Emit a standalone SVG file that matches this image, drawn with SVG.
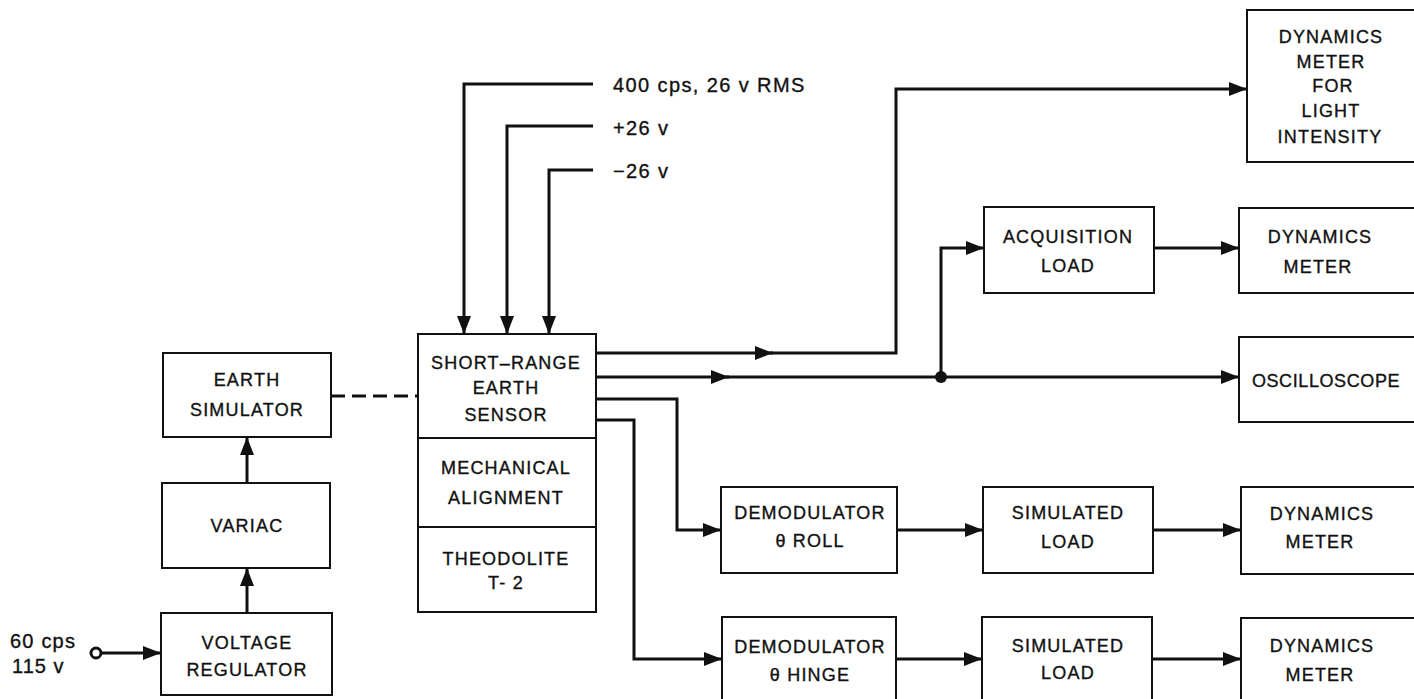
<svg xmlns="http://www.w3.org/2000/svg" width="1414" height="699" viewBox="0 0 1414 699">
<style>
.box{fill:#fff;stroke:#111;stroke-width:2}
.t{font-family:"Liberation Sans",Arial,sans-serif;font-size:18px;fill:#111;stroke:#111;stroke-width:0.35px;text-anchor:middle;letter-spacing:1.2px}
.lbl{font-family:"Liberation Sans",Arial,sans-serif;font-size:20px;fill:#111;stroke:#111;stroke-width:0.35px;letter-spacing:1.4px}
.w{fill:none;stroke:#111;stroke-width:3}
.a{marker-end:url(#ah)}
</style>
<defs>
<marker id="ah" markerUnits="userSpaceOnUse" markerWidth="19" markerHeight="16" refX="18" refY="8" orient="auto">
<path d="M0,1 L18,8 L0,15 z" fill="#111"/>
</marker>
</defs>
<rect width="1414" height="699" fill="#fff"/>

<g id="connectors">
<path class="w a" d="M593,84 H464 V334"/>
<path class="w a" d="M593,126 H507 V334"/>
<path class="w a" d="M593,170 H549 V334"/>
<path class="w" d="M331,396 H418" stroke-dasharray="14,7"/>
<path class="w a" d="M247,483 V437"/>
<path class="w a" d="M247,613 V568"/>
<circle cx="96" cy="653" r="5" fill="#fff" stroke="#111" stroke-width="3"/>
<path class="w a" d="M101,653 H161"/>
<path class="w a" d="M596,353 H773"/>
<path class="w a" d="M770,353 H896 V89 H1247"/>
<path class="w a" d="M596,377 H729"/>
<path class="w a" d="M726,377 H1239"/>
<circle cx="941" cy="377" r="6" fill="#111"/>
<path class="w a" d="M941,377 V248 H984"/>
<path class="w a" d="M1154,248 H1239"/>
<path class="w a" d="M596,399 H677 V530 H721"/>
<path class="w a" d="M596,420 H634 V659 H722"/>
<path class="w a" d="M897,530 H983"/>
<path class="w a" d="M1153,530 H1241"/>
<path class="w a" d="M896,659 H982"/>
<path class="w a" d="M1152,659 H1241"/>
</g>

<g id="input-labels">
<text class="lbl" x="613" y="92">400 cps, 26 v RMS</text>
<text class="lbl" x="613" y="135">+26 v</text>
<text class="lbl" x="613" y="178">−26 v</text>
<text class="lbl" x="10" y="648" style="letter-spacing:1.2px">60 cps</text>
<text class="lbl" x="12" y="673" style="letter-spacing:1px">115 v</text>
</g>

<g id="earth-simulator">
<rect class="box" x="163" y="353" width="168" height="84"/>
<text class="t" x="247" y="386">EARTH</text>
<text class="t" x="247" y="416">SIMULATOR</text>
</g>
<g id="variac">
<rect class="box" x="162" y="483" width="168" height="85"/>
<text class="t" x="247" y="532">VARIAC</text>
</g>
<g id="voltage-regulator">
<rect class="box" x="161" y="613" width="171" height="82"/>
<text class="t" x="247" y="649">VOLTAGE</text>
<text class="t" x="247" y="676">REGULATOR</text>
</g>

<g id="sensor">
<rect class="box" x="418" y="334" width="178" height="278"/>
<line x1="418" y1="438" x2="596" y2="438" stroke="#111" stroke-width="2"/>
<line x1="418" y1="527" x2="596" y2="527" stroke="#111" stroke-width="2"/>
<text class="t" x="506" y="369">SHORT–RANGE</text>
<text class="t" x="506" y="394">EARTH</text>
<text class="t" x="506" y="421">SENSOR</text>
<text class="t" x="506" y="474">MECHANICAL</text>
<text class="t" x="506" y="504">ALIGNMENT</text>
<text class="t" x="506" y="565">THEODOLITE</text>
<text class="t" x="506" y="589">T- 2</text>
</g>

<g id="dm-light">
<rect class="box" x="1247" y="10" width="200" height="152"/>
<text class="t" x="1331" y="43">DYNAMICS</text>
<text class="t" x="1331" y="68">METER</text>
<text class="t" x="1333" y="92">FOR</text>
<text class="t" x="1331" y="117">LIGHT</text>
<text class="t" x="1330" y="143">INTENSITY</text>
</g>

<g id="acquisition-load">
<rect class="box" x="984" y="207" width="170" height="86"/>
<text class="t" x="1068" y="243">ACQUISITION</text>
<text class="t" x="1068" y="272">LOAD</text>
</g>
<g id="dm-acq">
<rect class="box" x="1239" y="208" width="200" height="85"/>
<text class="t" x="1320" y="243">DYNAMICS</text>
<text class="t" x="1318" y="273">METER</text>
</g>

<g id="oscilloscope">
<rect class="box" x="1239" y="337" width="200" height="85"/>
<text class="t" x="1326" y="387" style="letter-spacing:0.6px">OSCILLOSCOPE</text>
</g>

<g id="demod-roll">
<rect class="box" x="721" y="487" width="176" height="86"/>
<text class="t" x="810" y="519">DEMODULATOR</text>
<text class="t" x="810" y="547">θ  ROLL</text>
</g>
<g id="sim-load-1">
<rect class="box" x="983" y="487" width="170" height="86"/>
<text class="t" x="1068" y="519">SIMULATED</text>
<text class="t" x="1068" y="548">LOAD</text>
</g>
<g id="dm-roll">
<rect class="box" x="1241" y="487" width="200" height="87"/>
<text class="t" x="1322" y="520">DYNAMICS</text>
<text class="t" x="1320" y="548">METER</text>
</g>

<g id="demod-hinge">
<rect class="box" x="722" y="617" width="174" height="100"/>
<text class="t" x="810" y="653">DEMODULATOR</text>
<text class="t" x="810" y="681">θ  HINGE</text>
</g>
<g id="sim-load-2">
<rect class="box" x="982" y="617" width="170" height="100"/>
<text class="t" x="1068" y="652">SIMULATED</text>
<text class="t" x="1068" y="679">LOAD</text>
</g>
<g id="dm-hinge">
<rect class="box" x="1241" y="618" width="200" height="100"/>
<text class="t" x="1322" y="652">DYNAMICS</text>
<text class="t" x="1320" y="681">METER</text>
</g>
</svg>
